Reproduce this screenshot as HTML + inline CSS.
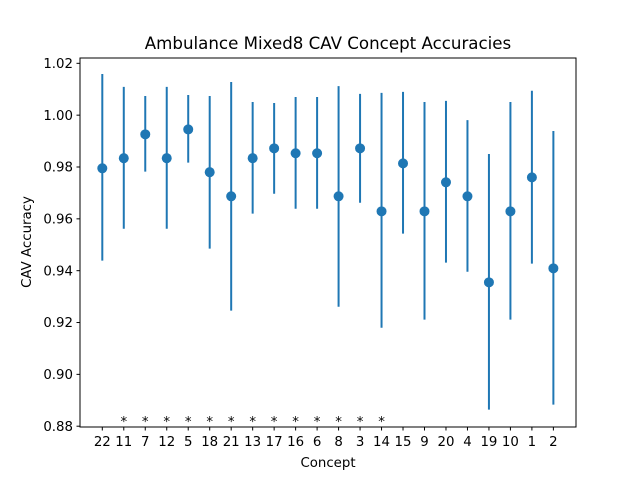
<!DOCTYPE html>
<html><head><meta charset="utf-8"><style>
body{margin:0;background:#fff;}
svg text{font-family:"DejaVu Sans","Liberation Sans",sans-serif;fill:#000;}
</style></head><body>
<svg id="chart" width="640" height="480" xmlns="http://www.w3.org/2000/svg">
<rect width="640" height="480" fill="#fff"/>
<text x="328" y="49" font-size="16.67" text-anchor="middle">Ambulance Mixed8 CAV Concept Accuracies</text>
<text x="328" y="467" font-size="13.33" text-anchor="middle">Concept</text>
<text transform="translate(31,242) rotate(-90)" font-size="13.33" text-anchor="middle">CAV Accuracy</text>
<g id="marks"></g>
<rect x="80" y="58" width="496" height="369" fill="none" stroke="#000" stroke-width="1"/>
</svg>
<script>
const categories=["22","11","7","12","5","18","21","13","17","16","6","8","3","14","15","9","20","4","19","10","1","2"];
const means=[0.9795,0.9834,0.9926,0.9834,0.9945,0.9780,0.9687,0.9834,0.9872,0.9853,0.9853,0.9687,0.9872,0.9629,0.9814,0.9629,0.9741,0.9687,0.9355,0.9629,0.9760,0.9409];
const uppers=[1.0159,1.0109,1.0074,1.0109,1.0078,1.0074,1.0128,1.0051,1.0047,1.0070,1.0070,1.0112,1.0082,1.0086,1.0090,1.0051,1.0055,0.9981,0.9850,1.0051,1.0094,0.9939];
const lowers=[0.9439,0.9562,0.9782,0.9562,0.9817,0.9485,0.9246,0.9620,0.9697,0.9639,0.9639,0.9261,0.9662,0.9180,0.9543,0.9211,0.9431,0.9396,0.8864,0.9211,0.9427,0.8883];
const significant=[false,true,true,true,true,true,true,true,true,true,true,true,true,true,false,false,false,false,false,false,false,false];
const yTicks=[0.88,0.90,0.92,0.94,0.96,0.98,1.00,1.02];
const NS="http://www.w3.org/2000/svg";
const g=document.getElementById('marks');
function y(v){return 426.2-(v-0.88)*2592;}
function x(i){return 102.3+i*21.48;}
function mk(t,a,p){const e=document.createElementNS(NS,t);for(const k in a)e.setAttribute(k,a[k]);(p||g).appendChild(e);return e;}
yTicks.forEach(function(t){
  const l=mk('line',{x1:76.5,x2:80,y1:y(t),y2:y(t),stroke:'#000'});
  
  
  const tx=mk('text',{x:73,y:y(t)+4.7,'font-size':13.33,'text-anchor':'end'});
  tx.textContent=t.toFixed(2);
  
  
});
categories.forEach(function(c,i){
  const l=mk('line',{x1:x(i),x2:x(i),y1:427,y2:430.5,stroke:'#000'});
  
  
  const tx=mk('text',{x:x(i),y:446,'font-size':13.33,'text-anchor':'middle'});
  tx.textContent=c;
  
  
  const eb=mk('line',{x1:x(i),x2:x(i),y1:y(uppers[i]),y2:y(lowers[i]),stroke:'#1f77b4','stroke-width':2});
  
  
  const pt=mk('circle',{cx:x(i),cy:y(means[i]),r:5,fill:'#1f77b4'});
  
  
  if(significant[i]){
    const s=mk('text',{x:x(i),y:426,'font-size':13.33,'text-anchor':'middle'});
    s.textContent='*';
    
    
  }
});
</script>
</body></html>
